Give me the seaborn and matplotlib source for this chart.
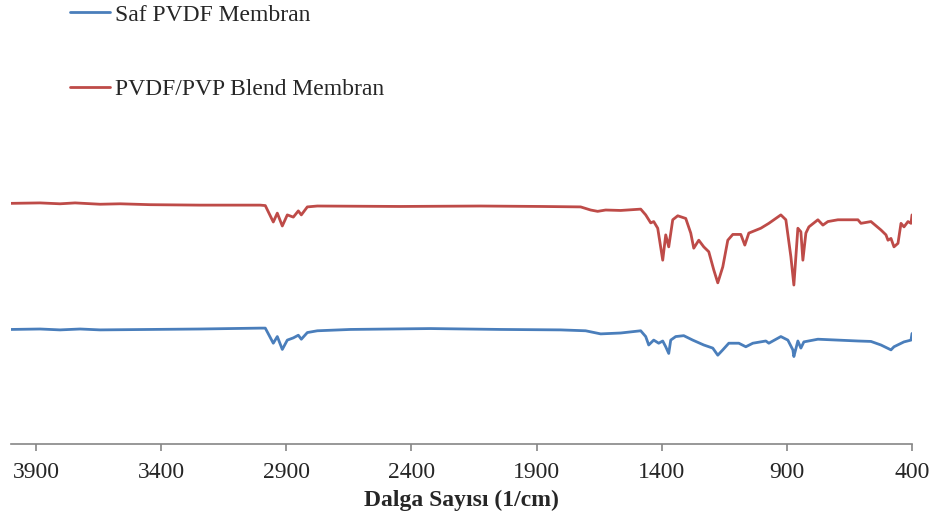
import numpy as np
import pandas as pd
import seaborn as sns
import matplotlib.pyplot as plt

# FTIR spectra (wavenumber 1/cm, transmittance arbitrary %)
saf_wn = [4000, 3884, 3804, 3724, 3644, 3444, 3244, 3004, 2984, 2952, 2936, 2916,
          2896, 2872, 2852, 2840, 2816, 2776, 2644, 2324, 2044, 1804, 1704, 1644,
          1564, 1484, 1464, 1452, 1432, 1412, 1396, 1384, 1372, 1364, 1344, 1312,
          1276, 1232, 1196, 1176, 1156, 1132, 1092, 1064, 1036, 984, 972, 924, 896,
          876, 872, 856, 844, 832, 776, 696, 616, 564, 524, 484, 472, 432, 404, 400]
saf_t = [25.8, 25.9, 25.7, 25.9, 25.7, 25.8, 25.9, 26.1, 26.1, 22.7, 24.2, 21.3,
         23.4, 23.9, 24.5, 23.6, 25.1, 25.5, 25.8, 26.0, 25.8, 25.7, 25.5, 24.8,
         25.0, 25.5, 24.2, 22.3, 23.4, 22.7, 23.2, 21.9, 20.4, 23.4, 24.2, 24.4,
         23.4, 22.3, 21.6, 20.0, 21.2, 22.7, 22.7, 21.9, 22.7, 23.2, 22.7, 24.2, 23.4,
         21.2, 19.7, 23.2, 21.6, 23.0, 23.6, 23.4, 23.2, 23.1, 22.3, 21.2, 21.9, 23.0, 23.4, 24.9]

blend_wn = [4000, 3884, 3804, 3744, 3644, 3564, 3444, 3244, 3004, 2984, 2952, 2936,
            2916, 2896, 2872, 2852, 2840, 2816, 2776, 2444, 2124, 1884, 1724, 1684,
            1656, 1624, 1564, 1484, 1464, 1444, 1432, 1416, 1396, 1384, 1372, 1356,
            1336, 1304, 1284, 1272, 1252, 1232, 1212, 1192, 1176, 1156, 1136, 1116,
            1084, 1068, 1052, 1004, 972, 924, 904, 884, 872, 864, 856, 844, 836, 824,
            812, 776, 756, 736, 696, 616, 604, 564, 524, 504, 496, 484, 472, 456, 444,
            432, 416, 404, 400]
blend_t = [54.2, 54.3, 54.1, 54.3, 54.0, 54.1, 53.9, 53.8, 53.8, 53.7, 50.0, 52.0,
           49.1, 51.6, 51.1, 52.5, 51.6, 53.4, 53.6, 53.5, 53.6, 53.5, 53.4, 52.7,
           52.4, 52.7, 52.6, 52.9, 51.6, 49.8, 50.1, 48.6, 41.4, 47.1, 44.4, 50.5,
           51.4, 50.8, 47.5, 44.1, 45.9, 44.4, 43.3, 39.2, 36.3, 39.9, 45.9, 47.2,
           47.2, 44.8, 47.5, 48.6, 49.7, 51.6, 50.5, 42.2, 35.8, 42.2, 48.6, 47.8, 41.4, 47.5,
           48.9, 50.5, 49.3, 50.1, 50.5, 50.5, 49.7, 50.1, 48.2, 47.1, 45.9, 46.3, 44.4, 45.2, 49.7,
           48.9, 50.1, 49.7, 51.6]

labels = ["Saf PVDF Membran", "PVDF/PVP Blend Membran"]
colors = ["#4a7ebb", "#be4b48"]
xticks = [3900, 3400, 2900, 2400, 1900, 1400, 900, 400]

df = pd.concat([
    pd.DataFrame({"wn": saf_wn, "T": saf_t, "seri": labels[0]}),
    pd.DataFrame({"wn": blend_wn, "T": blend_t, "seri": labels[1]}),
])

sns.set_style("white")
plt.rcParams['font.family'] = ['Liberation Serif', 'DejaVu Serif']

fig = plt.figure(figsize=(9.37, 5.26), dpi=100)
ax = fig.add_axes([11 / 937, 1 - 444 / 526, 901 / 937, 444 / 526])

sns.lineplot(data=df, x="wn", y="T", hue="seri", palette=colors, hue_order=labels,
             linewidth=2.0, sort=False, estimator=None, ax=ax, legend=False)

ax.set_xlim(4000, 400)
ax.set_ylim(0, 100)
ax.set_xticks(xticks)
ax.set_xticklabels([str(t) for t in xticks], fontsize=17)
ax.set_yticks([])
ax.set_ylabel("")
ax.set_xlabel("Dalga Sayısı (1/cm)", fontsize=17, fontweight="bold", labelpad=5)
for s in ["top", "right", "left"]:
    ax.spines[s].set_visible(False)
ax.spines["bottom"].set_color("#868686")
ax.spines["bottom"].set_linewidth(1.2)
ax.tick_params(axis="x", direction="out", length=5, width=1.2, color="#868686",
               pad=8, bottom=True)

# legend sits above the plot, Excel style
handles = [plt.Line2D([], [], color=c, linewidth=2.0) for c in colors]
fig.legend(handles, labels, loc="upper left", bbox_to_anchor=(70 / 937, 0.992),
           frameon=False, fontsize=17, handlelength=1.7, handletextpad=0.2,
           labelspacing=2.25, borderpad=0, borderaxespad=0)

fig.savefig("out.png", dpi=100)
